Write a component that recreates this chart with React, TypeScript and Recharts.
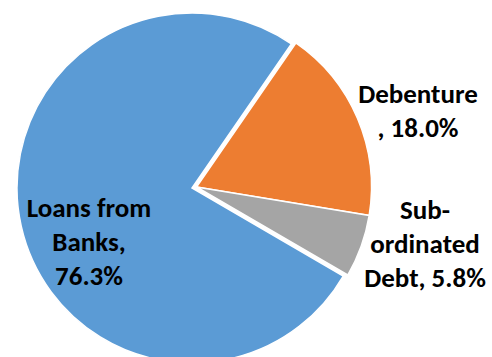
import { PieChart, Pie, Cell } from "recharts"

const categories = ["Debenture", "Sub-ordinated Debt", "Loans from Banks"]
const shares = [18.0, 5.8, 76.3]
// wrapped label lines, as they appear on the chart
const labelLines = [
  ["Debenture", ", 18.0%"],
  ["Sub-", "ordinated", "Debt, 5.8%"],
  ["Loans from", "Banks,", "76.3%"],
]
const colors = ["#ED7D31", "#A5A5A5", "#5B9BD5"]

const data = categories.map((name, i) => ({ name, value: shares[i] }))

// label anchor (centre x, first baseline y) relative to the pie centre
const labelPos = [
  { dx: 231, dy: -80 },
  { dx: 238, dy: 36 },
  { dx: -98, dy: 34 },
]
const LINE_H = 34

const START = 55.4

function renderLabel(props: any) {
  const { index } = props
  const pos = labelPos[index]
  const x = 187 + pos.dx
  const y = 183 + pos.dy
  return (
    <text
      key={index}
      x={x}
      y={y}
      textAnchor="middle"
      fill="#000"
      fontSize={27}
      fontWeight="bold"
      fontFamily="Carlito, Calibri, Lato, sans-serif"
    >
      {labelLines[index].map((line, j) => (
        <tspan key={j} x={x} y={y + j * LINE_H}>
          {line}
        </tspan>
      ))}
    </text>
  )
}

export default function App() {
  return (
    <div style={{ position: "absolute", left: 0, top: 0, background: "#fff" }}>
      <PieChart width={492} height={357}>
        {/* main slice */}
        <Pie
          data={data}
          dataKey="value"
          cx={187}
          cy={183}
          outerRadius={175}
          startAngle={START}
          endAngle={START - 360}
          stroke="none"
          label={renderLabel}
          labelLine={false}
          isAnimationActive={false}
        >
          {data.map((d, i) => (
            <Cell
              key={d.name}
              fill={i === 2 ? colors[i] : "none"}
              stroke={i === 2 ? "#fff" : "none"}
              strokeWidth={1.5}
            />
          ))}
        </Pie>
        {/* slightly pulled-out slices */}
        <Pie
          data={data}
          dataKey="value"
          cx={191.5}
          cy={182}
          outerRadius={175}
          startAngle={START}
          endAngle={START - 360}
          isAnimationActive={false}
        >
          {data.map((d, i) => (
            <Cell
              key={d.name}
              fill={i === 2 ? "none" : colors[i]}
              stroke={i === 2 ? "none" : "#fff"}
              strokeWidth={1.5}
            />
          ))}
        </Pie>
      </PieChart>
    </div>
  )
}
